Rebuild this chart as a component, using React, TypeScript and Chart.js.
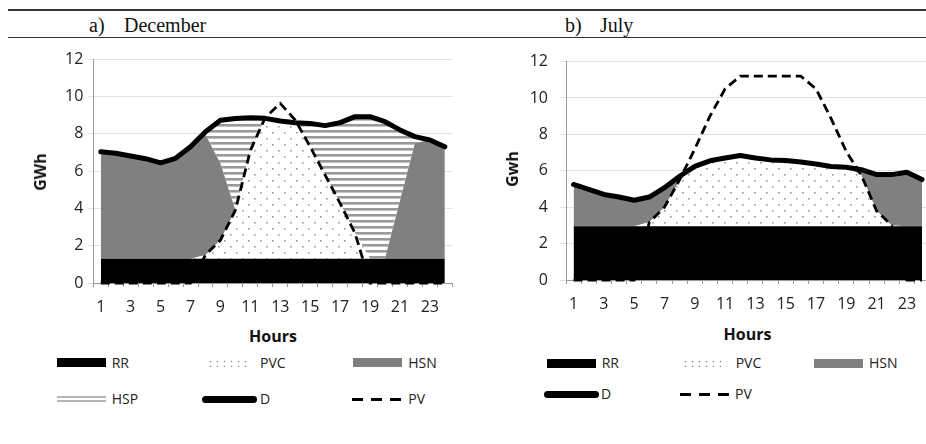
import React, { useEffect, useRef } from 'react';
import { Chart, registerables } from 'chart.js';

Chart.register(...registerables);

// ---------- DATA ----------
const hours = ['1','2','3','4','5','6','7','8','9','10','11','12','13','14','15','16','17','18','19','20','21','22','23','24'];
const yTicks = [0, 2, 4, 6, 8, 10, 12];

// December (components of the stacked areas, GWh)
const decRR = [1.3,1.3,1.3,1.3,1.3,1.3,1.3,1.3,1.3,1.3,1.3,1.3,1.3,1.3,1.3,1.3,1.3,1.3,1.3,1.3,1.3,1.3,1.3,1.3];
const decPVC = [0,0,0,0,0,0,0,0.2,1.0,2.6,5.8,7.52,7.38,7.29,6.0,4.48,2.97,1.36,0,0,0,0,0,0];
const decHSN = [5.73,5.65,5.5,5.36,5.14,5.38,6.0,6.45,4.1,0,0,0,0,0,0,0,0,0,0,0,3.1,6.18,6.36,6.0];
const decHSP = [0,0,0,0,0,0,0,0.15,2.32,4.91,1.75,0,0,0,1.25,2.65,4.32,6.25,7.61,7.34,3.8,0.36,0,0];
const decD = [7.03,6.95,6.8,6.66,6.44,6.68,7.3,8.1,8.72,8.81,8.85,8.82,8.68,8.59,8.55,8.43,8.59,8.91,8.91,8.64,8.2,7.84,7.66,7.3];
const decPV = [0,0,0,0,0,0,0,1.5,2.3,3.9,7.1,8.87,9.62,8.73,7.3,5.78,4.27,2.66,0,0,0,0,0,0];

// July
const julRR = [2.95,2.95,2.95,2.95,2.95,2.95,2.95,2.95,2.95,2.95,2.95,2.95,2.95,2.95,2.95,2.95,2.95,2.95,2.95,2.95,2.95,2.95,2.95,2.95];
const julPVC = [0,0,0,0,0,0.22,1.05,2.55,3.29,3.6,3.75,3.89,3.75,3.65,3.62,3.53,3.42,3.29,3.24,2.8,0.85,0.05,0,0];
const julHSN = [2.3,2.03,1.75,1.61,1.43,1.39,1.07,0.2,0,0,0,0,0,0,0,0,0,0,0,0.31,1.99,2.79,2.97,2.57];
const julD = [5.25,4.98,4.7,4.56,4.38,4.56,5.07,5.7,6.24,6.55,6.7,6.84,6.7,6.6,6.57,6.48,6.37,6.24,6.19,6.06,5.79,5.79,5.92,5.52];
const julPV = [0,0,0,0,0,3.17,4.0,5.5,7.2,9.0,10.5,11.2,11.2,11.2,11.2,11.2,10.5,8.87,7.06,5.75,3.8,3.0,0,0];

const FONT = "'Open Sans', sans-serif";

function cumulate(parts: number[][]): number[][] {
  const out: number[][] = [];
  let acc = parts[0].map(() => 0);
  for (const p of parts) {
    acc = acc.map((a, i) => +(a + p[i]).toFixed(3));
    out.push(acc);
  }
  return out;
}

function dotPattern(): CanvasPattern | string {
  const c = document.createElement('canvas');
  c.width = 12; c.height = 12;
  const g = c.getContext('2d');
  if (!g) return '#fff';
  g.fillStyle = '#ffffff';
  g.fillRect(0, 0, 12, 12);
  g.fillStyle = '#9a9a9a';
  g.fillRect(2, 2, 1.6, 1.6);
  g.fillRect(8, 8, 1.6, 1.6);
  return g.createPattern(c, 'repeat') || '#fff';
}

function linePattern(): CanvasPattern | string {
  const c = document.createElement('canvas');
  c.width = 6; c.height = 6;
  const g = c.getContext('2d');
  if (!g) return '#ccc';
  g.fillStyle = '#ffffff';
  g.fillRect(0, 0, 6, 6);
  g.fillStyle = '#999999';
  g.fillRect(0, 0, 6, 2.6);
  return g.createPattern(c, 'repeat') || '#ccc';
}

type PanelCfg = {
  areas: { label: string; data: number[]; color: any }[];
  D: number[];
  PV: number[];
  yWidth: number;
  padRight: number;
  xHeight: number;
  yTickLen: number;
  yPad: number;
};

function buildChart(canvas: HTMLCanvasElement, cfg: PanelCfg) {
  const cum = cumulate(cfg.areas.map(a => a.data));
  const areaSets = cfg.areas.map((a, i) => ({
    label: a.label,
    data: cum[i],
    backgroundColor: a.color,
    borderWidth: 0,
    borderColor: 'rgba(0,0,0,0)',
    pointRadius: 0,
    fill: i === 0 ? 'origin' : '-1',
    order: 10 + i,
    tension: 0,
  }));
  const datasets: any[] = [
    ...areaSets,
    {
      label: 'D', data: cfg.D, borderColor: '#000', borderWidth: 5, pointRadius: 0,
      fill: false, borderCapStyle: 'round', borderJoinStyle: 'round', order: 0, tension: 0, clip: false,
    },
    {
      label: 'PV', data: cfg.PV, borderColor: '#000', borderWidth: 2.8, borderDash: [9, 5],
      pointRadius: 0, fill: false, order: 1, tension: 0, clip: false,
    },
  ];
  return new Chart(canvas, {
    type: 'line',
    data: { labels: hours, datasets },
    options: {
      responsive: false,
      maintainAspectRatio: false,
      animation: false,
      layout: { padding: { left: 0, right: cfg.padRight, top: 19, bottom: 0 } },
      plugins: { legend: { display: false }, tooltip: { enabled: false } },
      scales: {
        x: {
          type: 'category',
          offset: true,
          grid: { display: true, drawOnChartArea: false, drawTicks: true, tickLength: 4, offset: true, color: '#9a9a9a' },
          border: { display: true, color: '#9a9a9a', width: 1 },
          ticks: {
            autoSkip: false, maxRotation: 0, minRotation: 0, padding: 11, color: '#222',
            font: { family: FONT, size: 16 },
            callback: (_v: any, i: number) => (i % 2 === 0 ? hours[i] : ''),
          },
          afterFit: (s: any) => { s.height = cfg.xHeight; },
        },
        y: {
          min: 0, max: 12,
          afterBuildTicks: (s: any) => { s.ticks = yTicks.map(v => ({ value: v })); },
          ticks: { padding: cfg.yPad, color: '#222', font: { family: FONT, size: 16 } },
          grid: { color: '#e2e2e2', tickLength: cfg.yTickLen, drawTicks: true },
          border: { display: true, color: '#9a9a9a', width: 1 },
          afterFit: (s: any) => { s.width = cfg.yWidth; },
        },
      },
    } as any,
  });
}

const abs = (x: number, y: number): React.CSSProperties => ({ position: 'absolute', left: x, top: y });

function LegendText({ x, y, text }: { x: number; y: number; text: string }) {
  return (
    <div style={{ ...abs(x, y), transform: 'translateY(-50%)', fontFamily: FONT, fontSize: 14, lineHeight: '14px', color: '#222', whiteSpace: 'nowrap' }}>{text}</div>
  );
}

function Swatch({ x, y, kind, w }: { x: number; y: number; kind: string; w: number }) {
  let st: React.CSSProperties = { position: 'absolute', left: x, width: w };
  if (kind === 'RR') st = { ...st, top: y - 4.5, height: 9, background: '#000' };
  if (kind === 'HSN') st = { ...st, top: y - 4.5, height: 9, background: '#808080' };
  if (kind === 'PVC') st = { ...st, top: y - 4, height: 8, backgroundImage: 'radial-gradient(circle, #9a9a9a 0.8px, transparent 1.1px)', backgroundSize: '7px 5px' };
  if (kind === 'HSP') st = { ...st, top: y - 3, height: 2, borderTop: '2px solid #b5b5b5', borderBottom: '2px solid #b5b5b5' };
  if (kind === 'D') st = { ...st, top: y - 3.5, height: 7, background: '#000', borderRadius: 3.5 };
  if (kind === 'PV') st = { ...st, top: y - 1.5, height: 3, backgroundImage: 'repeating-linear-gradient(to right, #000 0px, #000 11px, transparent 11px, transparent 19px)' };
  return <div style={st} />;
}

export default function App() {
  const leftRef = useRef<HTMLCanvasElement>(null);
  const rightRef = useRef<HTMLCanvasElement>(null);

  useEffect(() => {
    const dots = dotPattern();
    const lines = linePattern();
    const c1 = buildChart(leftRef.current!, {
      areas: [
        { label: 'RR', data: decRR, color: '#000000' },
        { label: 'PVC', data: decPVC, color: dots },
        { label: 'HSN', data: decHSN, color: '#808080' },
        { label: 'HSP', data: decHSP, color: lines },
      ],
      D: decD, PV: decPV, yWidth: 93.3, padRight: 17.7, xHeight: 40, yTickLen: 5, yPad: 5,
    });
    const c2 = buildChart(rightRef.current!, {
      areas: [
        { label: 'RR', data: julRR, color: '#000000' },
        { label: 'PVC', data: julPVC, color: dots },
        { label: 'HSN', data: julHSN, color: '#808080' },
      ],
      D: julD, PV: julPV, yWidth: 96, padRight: 10.4, xHeight: 40, yTickLen: 6, yPad: 12,
    });
    return () => { c1.destroy(); c2.destroy(); };
  }, []);

  const serif: React.CSSProperties = { fontFamily: "'Liberation Serif', 'Times New Roman', serif", fontSize: 20, lineHeight: '20px', color: '#111', whiteSpace: 'nowrap' };
  const boldTitle: React.CSSProperties = { fontFamily: FONT, fontSize: 16, fontWeight: 700, lineHeight: '16px', color: '#111', whiteSpace: 'nowrap' };

  return (
    <div style={{ position: 'fixed', left: 0, top: 0, width: 926, height: 444, overflow: 'hidden', background: '#fff' }}>
      {/* header rules */}
      <div style={{ position: 'absolute', left: 8, top: 9, width: 918, height: 1.5, background: '#333' }} />
      <div style={{ position: 'absolute', left: 8, top: 36.5, width: 918, height: 1.5, background: '#333' }} />
      <div style={{ ...abs(89, 15), ...serif }}>a)</div>
      <div style={{ ...abs(124, 15), ...serif }}>December</div>
      <div style={{ ...abs(565, 15), ...serif }}>b)</div>
      <div style={{ ...abs(600, 15), ...serif }}>July</div>

      <canvas ref={leftRef} width={470} height={283} style={{ position: 'absolute', left: 0, top: 40, width: 470, height: 283 }} />
      <canvas ref={rightRef} width={470} height={280} style={{ position: 'absolute', left: 470, top: 40, width: 470, height: 280 }} />

      {/* axis titles */}
      <div style={{ ...abs(40, 172), ...boldTitle, transform: 'translate(-50%,-50%) rotate(-90deg)' }}>GWh</div>
      <div style={{ ...abs(511.5, 169), ...boldTitle, transform: 'translate(-50%,-50%) rotate(-90deg)' }}>Gwh</div>
      <div style={{ ...abs(273, 336), ...boldTitle, transform: 'translate(-50%,-50%)' }}>Hours</div>
      <div style={{ ...abs(747.5, 333.5), ...boldTitle, transform: 'translate(-50%,-50%)' }}>Hours</div>

      {/* left legend */}
      <Swatch x={56.7} y={362.7} w={49} kind="RR" />
      <LegendText x={111.7} y={362.7} text="RR" />
      <Swatch x={206.7} y={362.7} w={44} kind="PVC" />
      <LegendText x={260} y={362.7} text="PVC" />
      <Swatch x={353.3} y={362.7} w={48.4} kind="HSN" />
      <LegendText x={408.3} y={362.7} text="HSN" />
      <Swatch x={56.7} y={399.3} w={49} kind="HSP" />
      <LegendText x={111.7} y={399.3} text="HSP" />
      <Swatch x={202.3} y={399.3} w={54.4} kind="D" />
      <LegendText x={260} y={399.3} text="D" />
      <Swatch x={351.7} y={399.3} w={50} kind="PV" />
      <LegendText x={408.3} y={399.3} text="PV" />

      {/* right legend */}
      <Swatch x={546.7} y={363.3} w={49.3} kind="RR" />
      <LegendText x={601.7} y={363.3} text="RR" />
      <Swatch x={681.7} y={363.3} w={45} kind="PVC" />
      <LegendText x={735.7} y={363.3} text="PVC" />
      <Swatch x={814.3} y={363.3} w={49} kind="HSN" />
      <LegendText x={869} y={363.3} text="HSN" />
      <Swatch x={544.3} y={394.3} w={54.7} kind="D" />
      <LegendText x={601} y={394.3} text="D" />
      <Swatch x={680} y={394.3} w={50} kind="PV" />
      <LegendText x={735} y={394.3} text="PV" />
    </div>
  );
}
